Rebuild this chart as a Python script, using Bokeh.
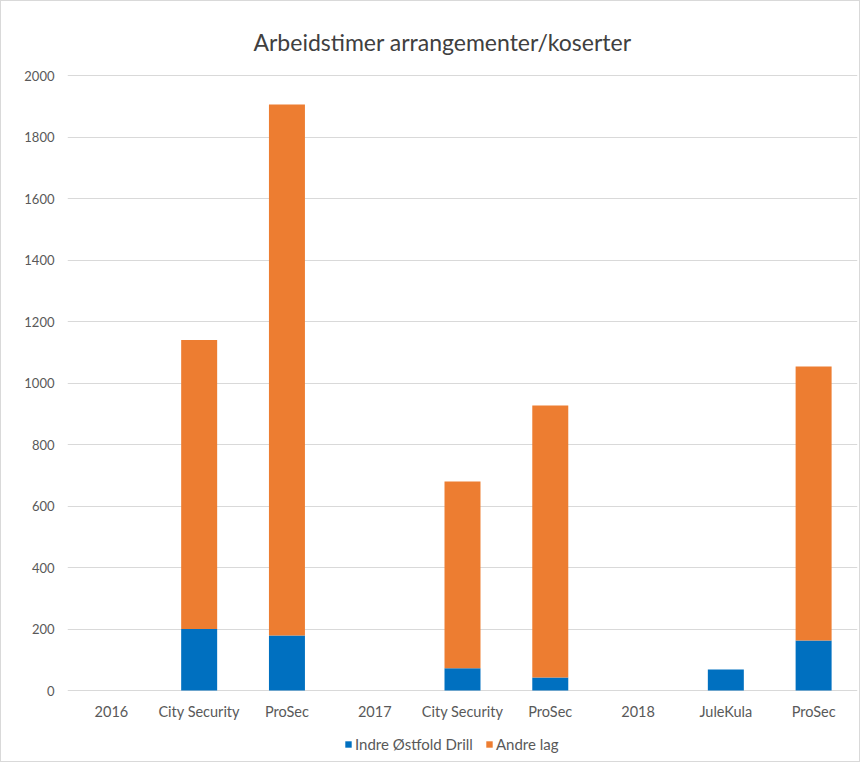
from bokeh.plotting import figure
from bokeh.models import ColumnDataSource, Legend, LegendItem, FixedTicker, Range1d
from bokeh.core.properties import value
from bokeh.embed import file_html
from bokeh.resources import INLINE

title = "Arbeidstimer arrangementer/koserter"
categories = ["2016", "City Security", "ProSec", "2017", "City Security", "ProSec", "2018", "JuleKula", "ProSec"]
indre = [0, 200, 179, 0, 72, 42, 0, 68, 163]
andre = [0, 940, 1727, 0, 608, 885, 0, 0, 891]
y_ticks = list(range(0, 2001, 200))
series = ["Indre Østfold Drill", "Andre lag"]
colors = ["#0070C0", "#ED7D31"]

# layout (pixels)
FRAME_W = 790
PLOT_H = 615          # height of the 0..2000 band
EXTRA_H = 69          # room under zero for category labels and legend
TOP_H = 72            # room above 2000 for the title
UPP = 2000 / PLOT_H   # data units per pixel (y)
XPP = len(categories) / FRAME_W  # data units per pixel (x)
ymin = -EXTRA_H * UPP
ymax = 2000 + TOP_H * UPP

xpos = [i + 0.5 for i in range(len(categories))]
src = ColumnDataSource(dict(x=xpos, indre=indre, andre=andre))
lab_src = ColumnDataSource(dict(x=xpos, y=[-21 * UPP] * len(xpos), t=categories))

FONT = "Lato"
p = figure(frame_width=FRAME_W, frame_height=PLOT_H + EXTRA_H + TOP_H, output_backend="svg",
           toolbar_location=None,
           x_range=Range1d(0, len(categories)), y_range=Range1d(ymin, ymax),
           min_border_left=66, min_border_right=2, min_border_top=2, min_border_bottom=2)
p.styles = {"border": "1px solid #d9d9d9"}

r = p.vbar_stack(["indre", "andre"], x="x", width=0.41, color=colors, source=src, line_color=None)

p.text(x="x", y="y", text="t", source=lab_src, text_font=value(FONT), text_font_size="14.5px",
       text_color="#595959", text_align="center", text_baseline="middle")

p.text(x=[375 * XPP], y=[2000 + 34 * UPP], text=[title], text_font=value(FONT),
       text_font_size="23px", text_color="#404040", text_align="center", text_baseline="middle")

p.xgrid.visible = False
p.ygrid.grid_line_color = "#d9d9d9"
p.ygrid.grid_line_width = 1
p.outline_line_color = None
p.xaxis.visible = False

p.yaxis.ticker = FixedTicker(ticks=y_ticks)
p.yaxis.axis_line_color = None
p.yaxis.major_tick_line_color = None
p.yaxis.minor_tick_line_color = None
p.yaxis.major_label_text_font = FONT
p.yaxis.major_label_text_color = "#595959"
p.yaxis.major_label_text_font_size = "13px"
p.yaxis.major_label_standoff = 7

legend = Legend(items=[LegendItem(label=series[0], renderers=[r[0]]),
                       LegendItem(label=series[1], renderers=[r[1]])],
                orientation="horizontal", location=(277, 6),
                label_text_font=FONT, label_text_font_size="15px", label_text_color="#595959",
                glyph_width=8, glyph_height=8, spacing=12, label_standoff=3,
                border_line_color=None, background_fill_alpha=0, padding=0, margin=0)
p.add_layout(legend, "center")

open("out.html", "w").write(file_html(p, INLINE))
